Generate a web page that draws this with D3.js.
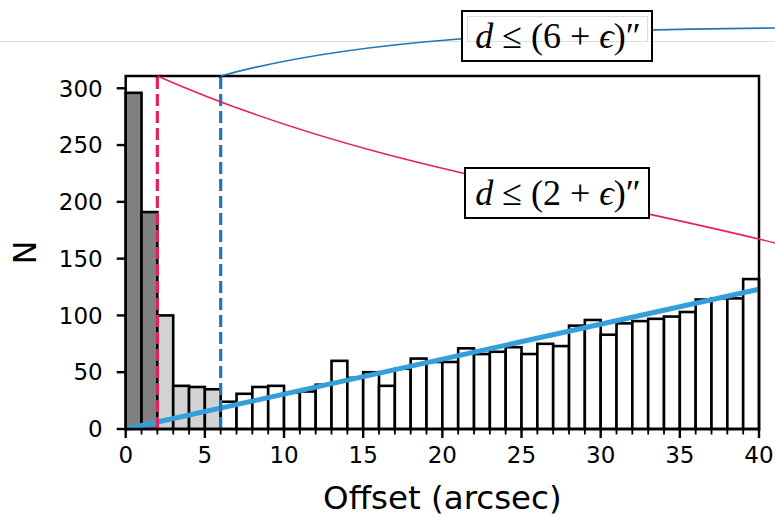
<!DOCTYPE html>
<html>
<head>
  <script src="https://d3js.org/d3.v7.min.js"></script>
  <style>
    body { margin: 0; background: #fff; }
    text { font-family: "DejaVu Sans", sans-serif; fill: #000; }
    .ann text { font-family: "Liberation Serif", "DejaVu Serif", serif; }
  </style>
</head>
<body>
  <div id="chart_div"></div>

  <script>
    // histogram counts, 1 arcsec bins from 0 to 40
    var binEdges = d3.range(0, 41);
    var counts = [296, 191, 100, 38, 37, 35, 24, 31, 37, 38,
                  32, 33, 39, 60, 45, 50, 38, 53, 62, 59,
                  59, 71, 66, 68, 72, 66, 75, 73, 91, 96,
                  83, 93, 95, 97, 99, 103, 114, 115, 115, 132];
    // fill groups: <2" dark, 2-6" light, rest white
    var groupEdges = [2, 6];
    var groupFills = ["#808080", "#d3d3d3", "#ffffff"];
    // linear background fit
    var fitX = [0, 40];
    var fitY = [0, 123];
    var xTicks = [0, 5, 10, 15, 20, 25, 30, 35, 40];
    var xMinor = d3.range(0, 41);
    var yTicks = [0, 50, 100, 150, 200, 250, 300];
    var cutLines = [2, 6];
    var cutColors = ["#e91e63", "#1f77b4"];
    var annLabels = ["2", "6"];

    var W = 775, H = 517;
    var margin = { top: 76, left: 125.7, right: 16, bottom: 88 };
    var width = W - margin.left - margin.right;
    var height = H - margin.top - margin.bottom;

    var svg = d3.select("#chart_div")
      .append("svg")
      .attr("width", W)
      .attr("height", H);

    var x = d3.scaleLinear().domain([0, 40]).range([margin.left, margin.left + width]);
    var y = d3.scaleLinear().domain([0, 310.8]).range([margin.top + height, margin.top]);

    // faint grey rule across the top (present in the source picture)
    svg.append("line")
      .attr("x1", 0).attr("x2", W)
      .attr("y1", 41.5).attr("y2", 41.5)
      .attr("stroke", "#dcdcdc").attr("stroke-width", 1);

    function fillFor(i) {
      if (binEdges[i] < groupEdges[0]) return groupFills[0];
      if (binEdges[i] < groupEdges[1]) return groupFills[1];
      return groupFills[2];
    }

    // bars
    svg.append("g").selectAll("rect")
      .data(counts)
      .enter()
      .append("rect")
      .attr("x", function(d, i) { return x(binEdges[i]); })
      .attr("width", function(d, i) { return x(binEdges[i + 1]) - x(binEdges[i]); })
      .attr("y", function(d) { return y(d); })
      .attr("height", function(d) { return y(0) - y(d); })
      .attr("fill", function(d, i) { return fillFor(i); })
      .attr("stroke", "#000")
      .attr("stroke-width", 2.6);

    // fit line
    svg.append("line")
      .attr("x1", x(fitX[0])).attr("y1", y(fitY[0]))
      .attr("x2", x(fitX[1])).attr("y2", y(fitY[1]))
      .attr("stroke", "#349fd9")
      .attr("stroke-width", 5);

    // dashed cut lines
    svg.append("g").selectAll("line")
      .data(cutLines)
      .enter()
      .append("line")
      .attr("x1", function(d) { return x(d); })
      .attr("x2", function(d) { return x(d); })
      .attr("y1", y(0))
      .attr("y2", y.range()[1])
      .attr("stroke", function(d, i) { return cutColors[i]; })
      .attr("stroke-width", 3.2)
      .attr("stroke-dasharray", "12,5");

    // frame
    svg.append("rect")
      .attr("x", margin.left).attr("y", margin.top)
      .attr("width", width).attr("height", height)
      .attr("fill", "none")
      .attr("stroke", "#000")
      .attr("stroke-width", 2.5);

    // x axis
    var xAxis = svg.append("g")
      .attr("transform", "translate(0," + y(0) + ")");
    xAxis.selectAll(".minor")
      .data(xMinor)
      .enter()
      .append("line")
      .attr("x1", function(d) { return x(d); })
      .attr("x2", function(d) { return x(d); })
      .attr("y1", 0)
      .attr("y2", function(d) { return d % 5 === 0 ? 9 : 5.5; })
      .attr("stroke", "#000")
      .attr("stroke-width", function(d) { return d % 5 === 0 ? 2.4 : 1.8; });
    xAxis.selectAll(".lbl")
      .data(xTicks)
      .enter()
      .append("text")
      .attr("x", function(d) { return x(d); })
      .attr("y", 34)
      .attr("text-anchor", "middle")
      .style("font-size", "23px")
      .text(function(d) { return d; });

    // y axis
    var yAxis = svg.append("g")
      .attr("transform", "translate(" + margin.left + ",0)");
    yAxis.selectAll("line")
      .data(yTicks)
      .enter()
      .append("line")
      .attr("x1", -9).attr("x2", 0)
      .attr("y1", function(d) { return y(d); })
      .attr("y2", function(d) { return y(d); })
      .attr("stroke", "#000")
      .attr("stroke-width", 2.4);
    yAxis.selectAll("text")
      .data(yTicks)
      .enter()
      .append("text")
      .attr("x", -23)
      .attr("y", function(d) { return y(d); })
      .attr("dy", "0.36em")
      .attr("text-anchor", "end")
      .style("font-size", "23px")
      .text(function(d) { return d; });

    // axis labels
    svg.append("text")
      .attr("x", (x(0) + x(40)) / 2)
      .attr("y", 509)
      .attr("text-anchor", "middle")
      .style("font-size", "32.5px")
      .text("Offset (arcsec)");

    svg.append("text")
      .attr("transform", "translate(35.5," + (margin.top + height / 2) + ") rotate(-90)")
      .attr("text-anchor", "middle")
      .style("font-size", "32px")
      .text("N");

    // annotation arcs (cubic, from the top of each cut line off to the right edge)
    var axTop = y.range()[1];
    var arcs = [
      { p0: [x(2), axTop], c1: [361, 166], c2: [575, 193], p3: [775, 243] },
      { p0: [x(6), axTop], c1: [351, 40], c2: [525, 30.5], p3: [775, 28] }
    ];
    svg.append("g").selectAll("path")
      .data(arcs)
      .enter()
      .append("path")
      .attr("d", function(a) {
        var p = d3.path();
        p.moveTo(a.p0[0], a.p0[1]);
        p.bezierCurveTo(a.c1[0], a.c1[1], a.c2[0], a.c2[1], a.p3[0], a.p3[1]);
        return p.toString();
      })
      .attr("fill", "none")
      .attr("stroke", function(d, i) { return cutColors[i]; })
      .attr("stroke-width", 1.6);

    // annotation boxes
    var boxes = [
      { x: 465, y: 168, w: 184, h: 50 },
      { x: 462, y: 11, w: 190, h: 50 }
    ];
    var ann = svg.append("g").attr("class", "ann");
    boxes.forEach(function(b, i) {
      ann.append("rect")
        .attr("x", b.x).attr("y", b.y)
        .attr("width", b.w).attr("height", b.h)
        .attr("fill", "#fff")
        .attr("stroke", "#000")
        .attr("stroke-width", 2);
      if (i === 1) {
        ann.append("rect")
          .attr("x", 467.5).attr("y", 16.5)
          .attr("width", 180).attr("height", 25)
          .attr("fill", "none")
          .attr("stroke", "#dcdcdc")
          .attr("stroke-width", 1);
      }
      var t = ann.append("text")
        .attr("x", b.x + b.w / 2 + 1)
        .attr("y", b.y + b.h / 2 + 12)
        .attr("text-anchor", "middle")
        .style("font-size", "36px");
      t.append("tspan").style("font-style", "italic").text("d");
      t.append("tspan").text(" \u2264 (" + annLabels[i] + " + ");
      t.append("tspan").style("font-style", "italic").text("\u03f5");
      t.append("tspan").text(")\u2033");
    });
  </script>
</body>
</html>
